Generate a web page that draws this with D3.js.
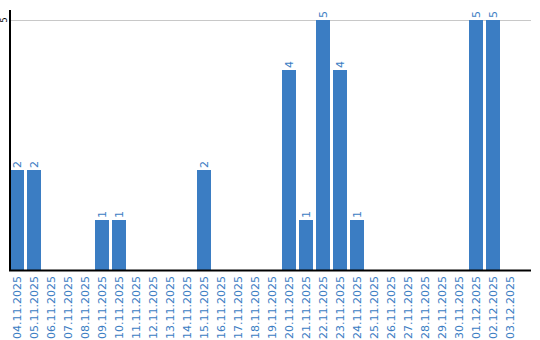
<!DOCTYPE html>
<html>
<head>
<meta charset="utf-8">
<script src="https://cdn.jsdelivr.net/npm/d3@7"></script>
<style>
  body { margin: 0; background: #fff; }
  svg { display: block; font-family: "DejaVu Sans", sans-serif; }
</style>
</head>
<body>
<div id="chart"></div>
<script>
// Données
const dates = ['04.11.2025', '05.11.2025', '06.11.2025', '07.11.2025', '08.11.2025', '09.11.2025',
  '10.11.2025', '11.11.2025', '12.11.2025', '13.11.2025', '14.11.2025', '15.11.2025', '16.11.2025',
  '17.11.2025', '18.11.2025', '19.11.2025', '20.11.2025', '21.11.2025', '22.11.2025', '23.11.2025',
  '24.11.2025', '25.11.2025', '26.11.2025', '27.11.2025', '28.11.2025', '29.11.2025', '30.11.2025',
  '01.12.2025', '02.12.2025', '03.12.2025'];
const counts = [2, 2, 0, 0, 0, 1, 1, 0, 0, 0, 0, 2, 0, 0, 0, 0, 4, 1, 5, 4, 1, 0, 0, 0, 0, 0, 0, 5, 5, 0];
const yTicks = [5];

const width = 540, height = 340;
const mLeft = 10, mRight = 531, mBottom = 270, mTop = 10;
const blue = '#3b7dc3';

const svg = d3.select('#chart')
  .append('svg')
  .attr('width', width)
  .attr('height', height);

const x = d3.scaleBand()
  .domain(dates)
  .range([mLeft, mLeft + 17 * (dates.length - 3 / 17)])
  .paddingInner(3 / 17)
  .paddingOuter(0);

const y = d3.scaleLinear()
  .domain([0, 5])
  .range([mBottom, 20]);

// Grille
svg.append('g')
  .selectAll('line')
  .data(yTicks)
  .join('line')
  .attr('x1', mLeft)
  .attr('x2', mRight)
  .attr('y1', d => y(d) + 0.5)
  .attr('y2', d => y(d) + 0.5)
  .attr('stroke', '#c8c8c8')
  .attr('stroke-width', 1);

// Labels axe Y
svg.append('g')
  .selectAll('text')
  .data(yTicks)
  .join('text')
  .attr('transform', d => `translate(7,${y(d)}) rotate(-90)`)
  .attr('text-anchor', 'middle')
  .attr('font-size', 8)
  .attr('fill', '#000')
  .text(d => d);

// Barres
svg.append('g')
  .selectAll('rect')
  .data(counts.map((v, i) => ({ v, d: dates[i] })).filter(d => d.v > 0))
  .join('rect')
  .attr('x', d => x(d.d))
  .attr('y', d => y(d.v))
  .attr('width', x.bandwidth())
  .attr('height', d => y(0) - y(d.v))
  .attr('fill', blue);

// Valeurs au-dessus des barres
svg.append('g')
  .selectAll('text')
  .data(counts.map((v, i) => ({ v, d: dates[i] })).filter(d => d.v > 0))
  .join('text')
  .attr('transform', d => `translate(${x(d.d) + x.bandwidth() / 2},${y(d.v) - 2}) rotate(-90)`)
  .attr('text-anchor', 'start')
  .attr('dy', '0.35em')
  .attr('font-size', 11)
  .attr('fill', blue)
  .text(d => d.v);

// Axes
svg.append('line')
  .attr('x1', mLeft).attr('x2', mLeft)
  .attr('y1', mTop).attr('y2', mBottom)
  .attr('stroke', '#000').attr('stroke-width', 2);

svg.append('line')
  .attr('x1', mLeft - 1).attr('x2', mRight)
  .attr('y1', mBottom + 0.5).attr('y2', mBottom + 0.5)
  .attr('stroke', '#000').attr('stroke-width', 2);

// Labels axe X
svg.append('g')
  .selectAll('text')
  .data(dates)
  .join('text')
  .attr('transform', d => `translate(${x(d) + x.bandwidth() / 2},${mBottom + 6}) rotate(-90)`)
  .attr('text-anchor', 'end')
  .attr('dy', '0.35em')
  .attr('font-size', 11)
  .attr('fill', blue)
  .text(d => d);
</script>
</body>
</html>
